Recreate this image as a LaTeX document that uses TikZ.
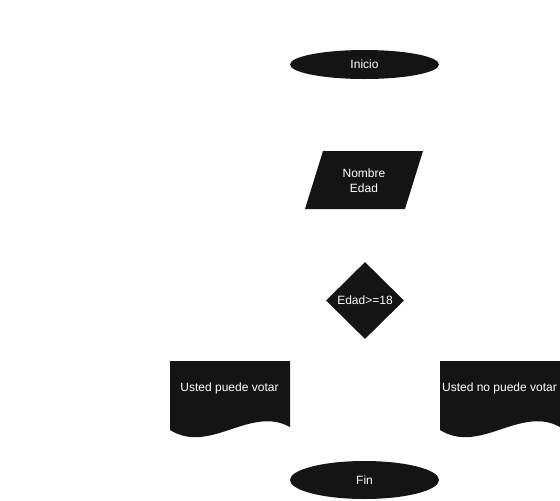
\documentclass[tikz,border=0pt]{standalone}
\usepackage{fontspec}
\setmainfont{Liberation Sans}
\usetikzlibrary{shapes.geometric}
\definecolor{shapefill}{HTML}{141414}
\tikzset{
  shp/.style={fill=shapefill, draw=none},
  lbl/.style={text=white, font=\fontsize{12}{15}\selectfont, inner sep=0pt, align=center},
  term/.style={shp, lbl, ellipse, minimum width=149pt},
  decis/.style={shp, lbl, diamond, minimum width=78pt, minimum height=77pt}
}
\begin{document}
\begin{tikzpicture}[x=1pt,y=-1pt]
\useasboundingbox (0,0) rectangle (560,501);
% Inicio
\node[term, minimum height=29pt] (inicio) at (364.5,64.5) {Inicio};
% Input parallelogram
\fill[shapefill] (323,151) -- (423,151) -- (405,209) -- (305,209) -- cycle;
\node[lbl] (entrada) at (364,180.5) {Nombre\\Edad};
% Decision
\node[decis] (decision) at (365,300.5) {Edad>=18};
% Left document
\fill[shapefill] (170,361) -- (290,361) -- (290,427)
  .. controls (250,405) and (210,455) .. (170,430) -- cycle;
\node[lbl] (si) at (229.5,388) {Usted puede votar};
% Right document
\fill[shapefill] (440,361) -- (560,361) -- (560,427)
  .. controls (520,405) and (480,455) .. (440,430) -- cycle;
\node[lbl] (no) at (499.5,388) {Usted no puede votar};
% Fin
\node[term, minimum height=38pt] (fin) at (364.5,480) {Fin};
\end{tikzpicture}
\end{document}
